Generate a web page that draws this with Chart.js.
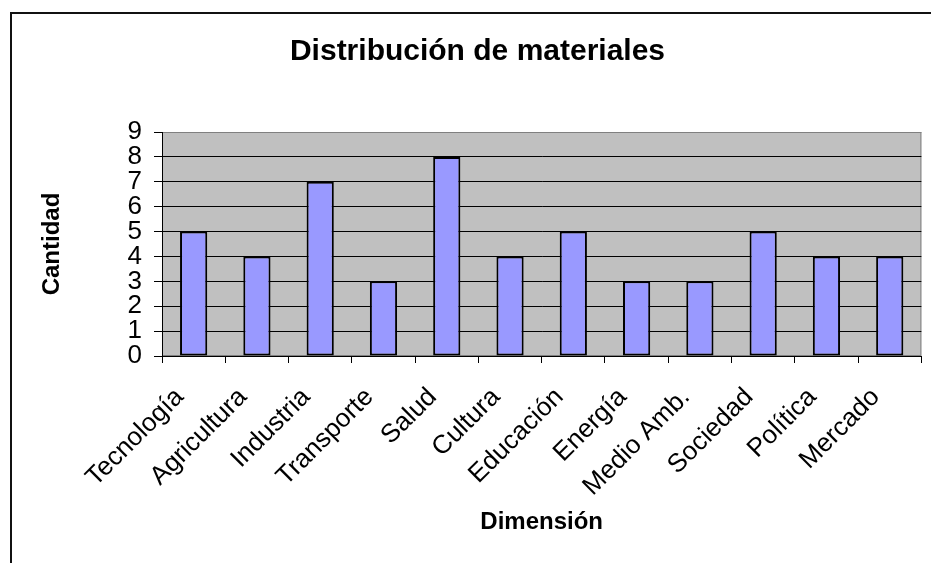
<!DOCTYPE html>
<html>
<head>
<meta charset="utf-8">
<script src="https://cdn.jsdelivr.net/npm/chart.js@4/dist/chart.umd.min.js"></script>
<style>
  html, body { margin: 0; padding: 0; background: #fff; overflow: hidden; }
  #wrap { position: relative; width: 931px; height: 563px; }
  #frame { position: absolute; left: 10px; top: 12px; width: 940px; height: 600px; border: 2px solid #111; box-sizing: border-box; }
  #graph1 { position: absolute; left: 0; top: 0; }
</style>
</head>
<body>
<div id="wrap">
  <div id="frame"></div>
  <canvas id="graph1" width="931" height="563"></canvas>
</div>
<script>
// datos del gráfico
const dimensiones = ['Tecnología', 'Agricultura', 'Industria', 'Transporte', 'Salud', 'Cultura',
                     'Educación', 'Energía', 'Medio Amb.', 'Sociedad', 'Política', 'Mercado'];
const cantidades  = [5, 4, 7, 3, 8, 4, 5, 3, 3, 5, 4, 4];
const yTicks      = [0, 1, 2, 3, 4, 5, 6, 7, 8, 9];

const FONT = "'Liberation Sans', Arial, sans-serif";

// fondo gris del área de trazado, como en Excel
const plotBackground = {
  id: 'plotBackground',
  beforeDraw: (chart) => {
    const { ctx, chartArea: a } = chart;
    ctx.save();
    ctx.fillStyle = '#C0C0C0';
    ctx.fillRect(a.left, a.top, a.right - a.left, a.bottom - a.top);
    ctx.strokeStyle = '#808080';
    ctx.lineWidth = 1;
    ctx.strokeRect(a.left + 0.5, a.top + 0.5, a.right - a.left - 1, a.bottom - a.top - 1);
    ctx.restore();
  }
};

const initGraphix = () => {
  const graphique = document.querySelector('#graph1');
  const graph = new Chart(graphique, {
    type: 'bar',
    data: {
      labels: dimensiones,
      datasets: [{
        label: 'Cantidad',
        data: cantidades,
        backgroundColor: '#9999FF',
        borderColor: '#000000',
        borderWidth: 2,
        borderSkipped: false,
        barPercentage: 0.43,
        categoryPercentage: 1
      }]
    },
    options: {
      responsive: false,
      animation: false,
      devicePixelRatio: 1,
      layout: { padding: { left: 29, right: 5, top: 0, bottom: 0 } },
      plugins: {
        legend: { display: false },
        tooltip: { enabled: false },
        title: {
          display: true,
          text: 'Distribución de materiales',
          color: '#000',
          font: { family: FONT, size: 30, weight: 'bold' },
          padding: { top: 33.5, bottom: 62.5 }
        }
      },
      scales: {
        x: {
          afterFit: (scale) => { scale.height = 207; },
          grid: { display: true, drawOnChartArea: false, offset: true, color: '#000', tickLength: 7 },
          border: { color: '#000', width: 1 },
          ticks: {
            color: '#000',
            font: { family: FONT, size: 26 },
            maxRotation: 45,
            minRotation: 45,
            padding: 19,
            labelOffset: -14,
            autoSkip: false
          },
          title: {
            display: true,
            text: 'Dimensión',
            color: '#000',
            font: { family: FONT, size: 24, weight: 'bold' },
            padding: { top: 0, bottom: 26.6 }
          }
        },
        y: {
          min: 0,
          max: 9,
          afterFit: (scale) => { scale.width = 133; },
          afterBuildTicks: (scale) => { scale.ticks = yTicks.map(v => ({ value: v })); },
          grid: {
            color: (c) => (c.tick && c.tick.value === 9 ? '#808080' : '#000'),
            tickColor: '#000',
            tickLength: 8,
            lineWidth: 1
          },
          border: { color: '#000', width: 1 },
          ticks: {
            color: '#000',
            font: { family: FONT, size: 26 },
            padding: 12,
            autoSkip: false
          },
          title: {
            display: true,
            text: 'Cantidad',
            color: '#000',
            font: { family: FONT, size: 24, weight: 'bold' },
            padding: { top: 8.6, bottom: 0 }
          }
        }
      }
    },
    plugins: [plotBackground]
  });
  return graph;
};

initGraphix();
</script>
</body>
</html>
